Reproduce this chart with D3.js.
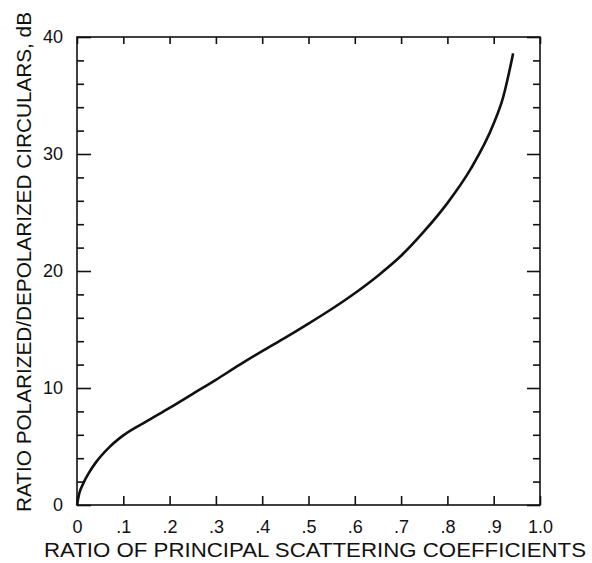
<!DOCTYPE html>
<html>
<head>
<meta charset="utf-8">
<script src="https://cdn.jsdelivr.net/npm/d3@7"></script>
<style>
  body { margin: 0; background: #fff; }
  text { font-family: "Liberation Sans", "DejaVu Sans", sans-serif; fill: #111; }
</style>
</head>
<body>
<script>
var settings = {
  width: 592,
  height: 563,
  left: 77,
  right: 540,
  top: 37,
  bottom: 505
}

// ratio of principal scattering coefficients vs polarized/depolarized ratio (dB)
var ratio = [0, 0.005, 0.0136, 0.025, 0.04, 0.07, 0.1, 0.15, 0.2, 0.25, 0.3, 0.35, 0.4, 0.45, 0.5, 0.55, 0.6, 0.65, 0.7, 0.75, 0.8, 0.85, 0.9, 0.92, 0.942];
var decibels = [0, 1.0, 1.85, 2.7, 3.6, 4.95, 5.95, 7.15, 8.3, 9.5, 10.7, 11.95, 13.15, 14.3, 15.5, 16.75, 18.1, 19.6, 21.3, 23.4, 25.8, 28.7, 32.6, 34.8, 38.6];

var xTicks = [0, 0.1, 0.2, 0.3, 0.4, 0.5, 0.6, 0.7, 0.8, 0.9, 1.0];
var xTickLabels = ['0', '.1', '.2', '.3', '.4', '.5', '.6', '.7', '.8', '.9', '1.0'];
var yMajorTicks = [0, 10, 20, 30, 40];
var yMinorTicks = [2, 4, 6, 8, 12, 14, 16, 18, 22, 24, 26, 28, 32, 34, 36, 38];

var xTitle = 'RATIO OF PRINCIPAL SCATTERING COEFFICIENTS';
var yTitle = 'RATIO POLARIZED/DEPOLARIZED CIRCULARS, dB';

var x = d3.scaleLinear().domain([0, 1]).range([settings.left, settings.right]);
var y = d3.scaleLinear().domain([0, 40]).range([settings.bottom, settings.top]);

var svg = d3.select('body').append('svg')
  .attr('width', settings.width)
  .attr('height', settings.height);

// ticks (pointing inward on all four sides)
svg.append('g')
  .attr('transform', 'translate(0,' + settings.bottom + ')')
  .call(d3.axisBottom(x).tickValues(xTicks).tickSize(-9)
    .tickFormat(function(d, i){ return xTickLabels[i]; }).tickPadding(15));

svg.append('g')
  .attr('transform', 'translate(0,' + settings.top + ')')
  .call(d3.axisTop(x).tickValues(xTicks).tickSize(-7).tickFormat(''));

svg.append('g')
  .attr('transform', 'translate(' + settings.left + ',0)')
  .call(d3.axisLeft(y).tickValues(yMajorTicks).tickSize(-14).tickPadding(14));

svg.append('g')
  .attr('transform', 'translate(' + settings.left + ',0)')
  .call(d3.axisLeft(y).tickValues(yMinorTicks).tickSize(-7).tickFormat(''));

svg.append('g')
  .attr('transform', 'translate(' + settings.right + ',0)')
  .call(d3.axisRight(y).tickValues(yMajorTicks).tickSize(-13).tickFormat(''));

svg.append('g')
  .attr('transform', 'translate(' + settings.right + ',0)')
  .call(d3.axisRight(y).tickValues(yMinorTicks).tickSize(-7).tickFormat(''));

svg.selectAll('.domain').remove();
svg.selectAll('.tick line')
  .attr('stroke', '#111')
  .attr('stroke-width', 1.6);
svg.selectAll('.tick text')
  .style('font-size', '18px')
  .attr('fill', '#111');

// frame
svg.append('rect')
  .attr('x', settings.left)
  .attr('y', settings.top)
  .attr('width', settings.right - settings.left)
  .attr('height', settings.bottom - settings.top)
  .style('fill', 'none')
  .style('stroke', '#111')
  .style('stroke-width', 1.6);

// curve
var line = d3.line()
  .x(function(d, i){ return x(ratio[i]); })
  .y(function(d, i){ return y(decibels[i]); })
  .curve(d3.curveMonotoneX);

svg.append('path')
  .datum(ratio)
  .attr('d', line)
  .style('fill', 'none')
  .style('stroke', '#111')
  .style('stroke-width', 2.6);

// titles
svg.append('text')
  .attr('x', 44)
  .attr('y', 557)
  .attr('textLength', 542)
  .attr('lengthAdjust', 'spacingAndGlyphs')
  .style('font-size', '20px')
  .text(xTitle);

svg.append('text')
  .attr('transform', 'translate(31,512) rotate(-90)')
  .attr('textLength', 500)
  .attr('lengthAdjust', 'spacingAndGlyphs')
  .style('font-size', '20px')
  .text(yTitle);
</script>
</body>
</html>
